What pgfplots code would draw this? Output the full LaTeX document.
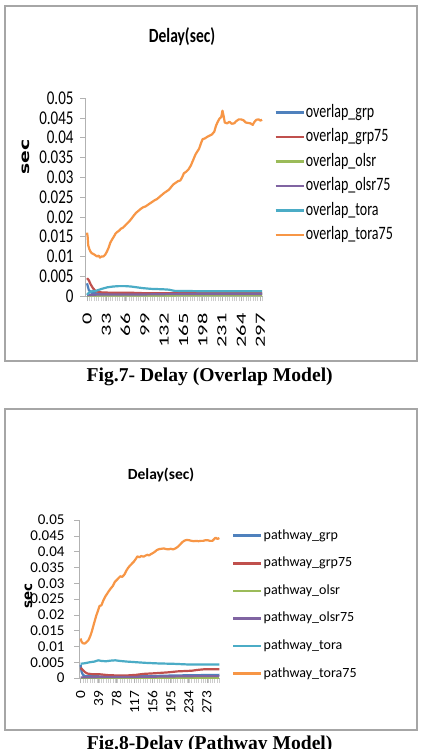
\documentclass[border=0pt]{standalone}
\usepackage{fontspec}
\setmainfont{Liberation Serif}
\newfontfamily\carlito{Carlito}
\newfontfamily\dejavu{DejaVu Sans}
\usepackage{graphicx}
\usepackage{pgfplots}
\pgfplotsset{compat=1.18}

% Excel 2007 default series colours
\definecolor{xlblue}{HTML}{4F81BD}
\definecolor{xlred}{HTML}{C0504D}
\definecolor{xlgreen}{HTML}{9BBB59}
\definecolor{xlpurple}{HTML}{8064A2}
\definecolor{xlaqua}{HTML}{4BACC6}
\definecolor{xlorange}{HTML}{F79646}
\definecolor{frame}{HTML}{A6A6A6}

% text of the first figure is drawn taller than wide
\newcommand{\tall}[1]{{\fontsize{14}{14}\carlito\scalebox{1}[1.35]{#1}}}
\newcommand{\tallytl}[1]{{\fontsize{15}{15}\carlito\scalebox{1}[1.3]{#1}}}
\newcommand{\lab}[1]{{\fontsize{14}{14}\carlito #1}}
\newcommand{\ytl}[1]{{\fontsize{15}{15}\carlito #1}}

\pgfplotsset{
  delaystyle/.style={
    scale only axis,
    axis x line*=bottom, axis y line*=left,
    axis line style={-, draw=gray!60, line width=0.8pt},
    tick align=outside,
    major tick length=5pt, minor tick length=5pt,
    major tick style={draw=gray!60, line width=0.6pt},
    minor tick style={draw=gray!40, line width=0.5pt},
    ymin=0, ymax=0.05,
    ytick={0,0.005,0.01,0.015,0.02,0.025,0.03,0.035,0.04,0.045,0.05},
    scaled y ticks=false,
    xmin=-3.5, xmax=301.5,
    clip=false,
    every axis plot/.append style={line width=2.2pt, line join=round, no markers},
    legend cell align=left,
  },
  legend image code/.code={\draw[#1, line width=2.6pt] (0pt,0pt) -- (28pt,0pt);},
}

\begin{document}
\begin{tikzpicture}
\path[use as bounding box, fill=white] (0pt,0pt) rectangle (427pt,-749pt);

% ---------------- Fig. 7 : overlap model ----------------
\draw[frame, line width=1.2pt] (5pt,-6pt) rectangle (417pt,-361pt);
\node[font=\fontsize{15.5}{16}\carlito\bfseries, yscale=1.3] at (182pt,-37pt) {Delay(sec)};
\node[font=\fontsize{13.4}{14}\dejavu\bfseries, rotate=90] at (26pt,-157pt) {\scalebox{1.4}[1]{sec}};

\begin{axis}[delaystyle,
  at={(85pt,-296pt)}, anchor=south west,
  width=178pt, height=198pt,
  xtick={0,33,...,297},
  minor xtick={0,4,...,300},
  xticklabel={\lab{\scalebox{1.6}[1]{\pgfmathparse{int(round(\tick))}\pgfmathresult}}},
  xticklabel style={rotate=90, anchor=east},
  xticklabel shift=9pt,
  yticklabels={\tallytl{0},\tallytl{0.005},\tallytl{0.01},\tallytl{0.015},\tallytl{0.02},\tallytl{0.025},\tallytl{0.03},\tallytl{0.035},\tallytl{0.04},\tallytl{0.045},\tallytl{0.05}},
  yticklabel shift=3pt,
  legend style={at={(1.045,0.98)}, anchor=north west, draw=none, fill=none,
    row sep=7.5pt, column sep=1pt,
    nodes={inner sep=0pt, text height=13pt, text depth=4pt}},
]
\addplot[xlblue] coordinates {(0,0.0032) (3,0.0015) (8,0.0008) (20,0.0006) (100,0.0006) (200,0.0006) (300,0.0006)};
\addlegendentry{\tall{overlap\_grp}}
\addplot[xlred] coordinates {(0,0.0045) (3,0.0040) (6,0.0030) (10,0.0020) (15,0.0012) (25,0.0009) (50,0.0008) (80,0.0008) (100,0.0007) (150,0.0007) (300,0.0007)};
\addlegendentry{\tall{overlap\_grp75}}
\addplot[xlgreen] coordinates {(0,0.0001) (100,0.0001) (200,0.0002) (300,0.0002)};
\addlegendentry{\tall{overlap\_olsr}}
\addplot[xlpurple] coordinates {(0,0.0002) (5,0.0003) (30,0.0004) (60,0.0004) (100,0.0004) (150,0.0005) (200,0.0005) (250,0.0005) (300,0.0005)};
\addlegendentry{\tall{overlap\_olsr75}}
\addplot[xlaqua] coordinates {(0,0.0003) (3,0.0008) (8,0.0012) (15,0.0013) (25,0.0018) (35,0.0022) (45,0.0024) (55,0.0025) (65,0.0025) (75,0.0024) (85,0.0022) (95,0.0020) (110,0.0018) (130,0.0017) (140,0.0016) (150,0.0013) (200,0.0012) (300,0.0012)};
\addlegendentry{\tall{overlap\_tora}}
\addplot[xlorange] coordinates {
 (0,0.0160) (1,0.0150) (2,0.0128) (4,0.0118) (6,0.0112) (8,0.0108) (11,0.0106)
 (14,0.0103) (17,0.0100) (20,0.0102) (22,0.0097) (25,0.0100) (28,0.0100)
 (31,0.0104) (34,0.0112) (37,0.0122) (40,0.0135) (43,0.0143) (46,0.0150)
 (49,0.0158) (52,0.0162) (55,0.0165) (58,0.0170) (61,0.0172) (64,0.0176)
 (68,0.0182) (72,0.0188) (76,0.0195) (80,0.0203) (84,0.0210) (88,0.0215)
 (92,0.0220) (96,0.0224) (100,0.0226) (104,0.0230) (108,0.0234) (112,0.0238)
 (116,0.0242) (120,0.0245) (124,0.0250) (128,0.0255) (132,0.0260) (136,0.0264)
 (140,0.0268) (144,0.0275) (148,0.0282) (152,0.0286) (156,0.0290) (160,0.0292)
 (163,0.0300) (166,0.0310) (170,0.0314) (174,0.0320) (178,0.0330) (182,0.0344)
 (186,0.0358) (189,0.0365) (192,0.0372) (195,0.0385) (198,0.0396) (202,0.0398)
 (206,0.0402) (210,0.0405) (214,0.0408) (218,0.0415) (221,0.0430) (224,0.0440)
 (227,0.0448) (230,0.0452) (232,0.0468) (234,0.0455) (236,0.0438) (240,0.0436)
 (244,0.0440) (248,0.0435) (252,0.0436) (256,0.0442) (260,0.0446) (264,0.0446)
 (268,0.0444) (272,0.0438) (276,0.0437) (280,0.0436) (284,0.0432) (286,0.0438)
 (290,0.0445) (294,0.0446) (297,0.0443) (300,0.0445)};
\addlegendentry{\tall{overlap\_tora75}}
\end{axis}

\node[font=\fontsize{19.6}{20}\selectfont\bfseries, anchor=base] at (209.7pt,-381pt) {Fig.7- Delay (Overlap Model)};

% ---------------- Fig. 8 : pathway model ----------------
\draw[frame, line width=1.2pt] (5pt,-409pt) rectangle (417pt,-730pt);
\node[font=\fontsize{15.5}{16}\carlito\bfseries] at (161pt,-475pt) {Delay(sec)};
\node[font=\fontsize{13.4}{14}\dejavu\bfseries, rotate=90] at (28.5pt,-596pt) {sec};

\begin{axis}[delaystyle,
  at={(79pt,-678pt)}, anchor=south west,
  width=141pt, height=158pt,
  xtick={0,39,...,273},
  minor xtick={0,5,...,300},
  xticklabel={\lab{\scalebox{1.1}[1]{\pgfmathparse{int(round(\tick))}\pgfmathresult}}},
  xticklabel style={rotate=90, anchor=east},
  xticklabel shift=4pt,
  yticklabels={\ytl{0},\ytl{0.005},\ytl{0.01},\ytl{0.015},\ytl{0.02},\ytl{0.025},\ytl{0.03},\ytl{0.035},\ytl{0.04},\ytl{0.045},\ytl{0.05}},
  yticklabel shift=6pt,
  legend style={at={(1.063,0.956)}, anchor=north west, draw=none, fill=none,
    row sep=14.6pt, column sep=1pt,
    nodes={inner sep=0pt, text height=10pt, text depth=3pt}},
]
\addplot[xlblue] coordinates {(0,0.0042) (2,0.0020) (5,0.0010) (10,0.0006) (50,0.0005) (100,0.0005) (150,0.0006) (200,0.0008) (250,0.0009) (300,0.0010)};
\addlegendentry{\lab{pathway\_grp}}
\addplot[xlred] coordinates {(0,0.0032) (5,0.0025) (10,0.0018) (15,0.0014) (25,0.0012) (40,0.0012) (60,0.0009) (80,0.0008) (100,0.0008) (120,0.0010) (136,0.0013) (160,0.0015) (190,0.0018) (210,0.0021) (240,0.0023) (255,0.0026) (270,0.0028) (300,0.0028)};
\addlegendentry{\lab{pathway\_grp75}}
\addplot[xlgreen] coordinates {(0,0.0001) (100,0.0001) (200,0.0001) (300,0.0001)};
\addlegendentry{\lab{pathway\_olsr}}
\addplot[xlpurple] coordinates {(0,0.0002) (50,0.0003) (100,0.0003) (150,0.0004) (200,0.0005) (250,0.0006) (300,0.0006)};
\addlegendentry{\lab{pathway\_olsr75}}
\addplot[xlaqua] coordinates {(0,0.0045) (10,0.0047) (20,0.0050) (30,0.0052) (38,0.0056) (45,0.0054) (55,0.0053) (65,0.0055) (75,0.0056) (85,0.0054) (100,0.0052) (120,0.0050) (140,0.0048) (170,0.0046) (200,0.0045) (230,0.0043) (260,0.0043) (300,0.0043)};
\addlegendentry{\lab{pathway\_tora}}
\addplot[xlorange] coordinates {
 (0,0.0125) (2,0.0115) (5,0.0110) (9,0.0109) (13,0.0114) (17,0.0120) (21,0.0133)
 (24,0.0146) (27,0.0162) (31,0.0183) (34,0.0198) (38,0.0215) (41,0.0228)
 (45,0.0230) (49,0.0245) (53,0.0257) (57,0.0266) (61,0.0275) (65,0.0283)
 (70,0.0292) (74,0.0304) (78,0.0310) (82,0.0316) (86,0.0322) (90,0.0320)
 (95,0.0328) (99,0.0340) (103,0.0349) (107,0.0356) (111,0.0362) (115,0.0368)
 (119,0.0376) (123,0.0385) (127,0.0382) (131,0.0386) (136,0.0384) (140,0.0387)
 (144,0.0390) (148,0.0388) (152,0.0392) (157,0.0396) (161,0.0400) (165,0.0405)
 (170,0.0408) (175,0.0409) (180,0.0410) (185,0.0408) (190,0.0407) (195,0.0409)
 (200,0.0407) (205,0.0410) (210,0.0415) (215,0.0422) (220,0.0430) (225,0.0435)
 (230,0.0437) (235,0.0436) (240,0.0434) (245,0.0433) (250,0.0434) (255,0.0433)
 (260,0.0434) (265,0.0434) (270,0.0436) (275,0.0436) (280,0.0434) (285,0.0434)
 (289,0.0440) (292,0.0444) (296,0.0440) (300,0.0443)};
\addlegendentry{\lab{pathway\_tora75}}
\end{axis}

\node[font=\fontsize{19.6}{20}\selectfont\bfseries, anchor=base] at (209.7pt,-749pt) {Fig.8-Delay (Pathway Model)};
\end{tikzpicture}
\end{document}
